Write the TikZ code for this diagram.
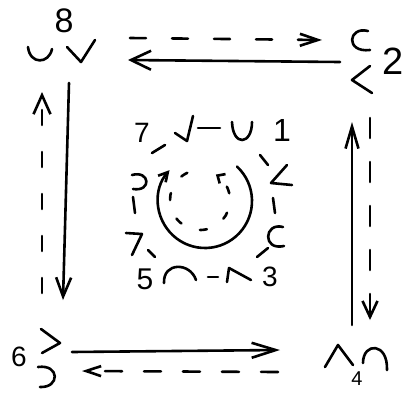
\documentclass[tikz,border=0pt]{standalone}
\usepackage{fontspec}
\setmainfont{Liberation Sans}
\usetikzlibrary{arrows.meta}
\begin{document}
\begin{tikzpicture}[x=1pt,y=-1pt,
  ink/.style={line width=2.6pt, line cap=round, line join=round},
  dsh/.style={dash pattern=on 16pt off 26pt},
  dig/.style={inner sep=0pt, font=\fontsize{#1}{#1}\selectfont}]
\useasboundingbox (0,0) rectangle (413,392);

% ---- connector end points
\coordinate (tdS) at (130,38);  \coordinate (tdE) at (322,40);
\coordinate (tsS) at (340,62);  \coordinate (tsE) at (128,60);
\coordinate (ldS) at (42,293);  \coordinate (ldE) at (42,92);
\coordinate (lsS) at (69,83);   \coordinate (lsE) at (63,300);
\coordinate (bsS) at (72,352);  \coordinate (bsE) at (280,350);
\coordinate (bdS) at (278,372); \coordinate (bdE) at (82,371);
\coordinate (rsS) at (352,325); \coordinate (rsE) at (352,122);
\coordinate (rdS) at (370,118); \coordinate (rdE) at (370,320);
\coordinate (cc) at (205,201);
\coordinate (dc) at (200,200);

% ---- outer connectors
\draw[ink,dsh,-{Straight Barb[length=18pt,width=12pt]}] (tdS) -- (tdE);
\draw[ink,-{Straight Barb[length=20pt,width=19pt]}] (tsS) -- (tsE);
\draw[ink,dash pattern=on 15pt off 27pt,-{Straight Barb[length=19pt,width=17pt]}] (ldS) -- (ldE);
\draw[ink,-{Straight Barb[length=19pt,width=15pt]}] (lsS) -- (lsE);
\draw[ink,-{Straight Barb[length=24pt,width=15pt]}] (bsS) -- (bsE);
\draw[ink,dash pattern=on 17pt off 22pt,-{Straight Barb[length=15pt,width=10pt]}] (bdS) -- (bdE);
\draw[ink,-{Straight Barb[length=22pt,width=13pt]}] (rsS) -- (rsE);
\draw[ink,dash pattern=on 20pt off 24pt,-{Straight Barb[length=16pt,width=15pt]}] (rdS) -- (rdE);

% ---- inner circles
\draw[ink,-{Straight Barb[length=9pt,width=10pt]}] (cc) ++(47:47pt) arc[start angle=47,end angle=-221,radius=47pt];
\draw[ink,dash pattern=on 7pt off 20pt,-{Straight Barb[length=6pt,width=11pt]}] (dc) ++(115:30pt) arc[start angle=115,end angle=418,radius=30pt];

% ---- corner glyphs
% top left
\draw[ink] (28,47) .. controls (30,65) and (49,64) .. (52,49);
\draw[ink] (67,47) -- (81,62) -- (95,40);
% top right
\draw[ink] (368,31) .. controls (348,26) and (345,53) .. (370,50);
\draw[ink] (370,66) -- (352,80) -- (372,93);
% bottom left
\draw[ink] (41,329) -- (60,343) -- (42,353);
\draw[ink] (38,367) .. controls (60,364) and (60,388) .. (40,387);
% bottom right
\draw[ink] (325,367) -- (338,345) -- (353,365);
\draw[ink] (363,363) .. controls (363,342) and (388,342) .. (387,370);

% ---- ring glyphs
\draw[ink] (152,153) -- (165,145);
\draw[ink] (175,133) -- (187,141) -- (193,116);
\draw[ink] (198,128) -- (220,128);
\draw[ink] (232,122) .. controls (233,147) and (252,145) .. (252,122);
\draw[ink] (260,155) -- (268,165);
\draw[ink] (287,165) -- (271,183) -- (292,185);
\draw[ink] (273,198) -- (275,213);
\draw[ink] (283,227) .. controls (264,222) and (262,251) .. (284,246);
\draw[ink] (257,257) -- (268,248);
\draw[ink] (227,282) -- (229,268) -- (251,280);
\draw[ink] (208,277) -- (218,277);
\draw[ink] (164,283) .. controls (163,262) and (190,262) .. (196,280);
\draw[ink] (126,233) -- (142,234) -- (132,255);
\draw[ink] (148,250) -- (155,257);
\draw[ink] (133,197) -- (135,213);
\draw[ink] (132,175) .. controls (150,170) and (152,192) .. (133,189);

% ---- numbers
\node[dig=34] (n8) at (64,21) {8};
\node[dig=38] (n2) at (393,61) {2};
\node[dig=28] (n6) at (19,357) {6};
\node[dig=20,anchor=south] (n4) at (357,386) {4};
\node[dig=28] (n7) at (142,133) {7};
\node[dig=32] (n1) at (282,130) {1};
\node[dig=30] (n5) at (145,279) {5};
\node[dig=28] (n3) at (270,277) {3};
\end{tikzpicture}
\end{document}
